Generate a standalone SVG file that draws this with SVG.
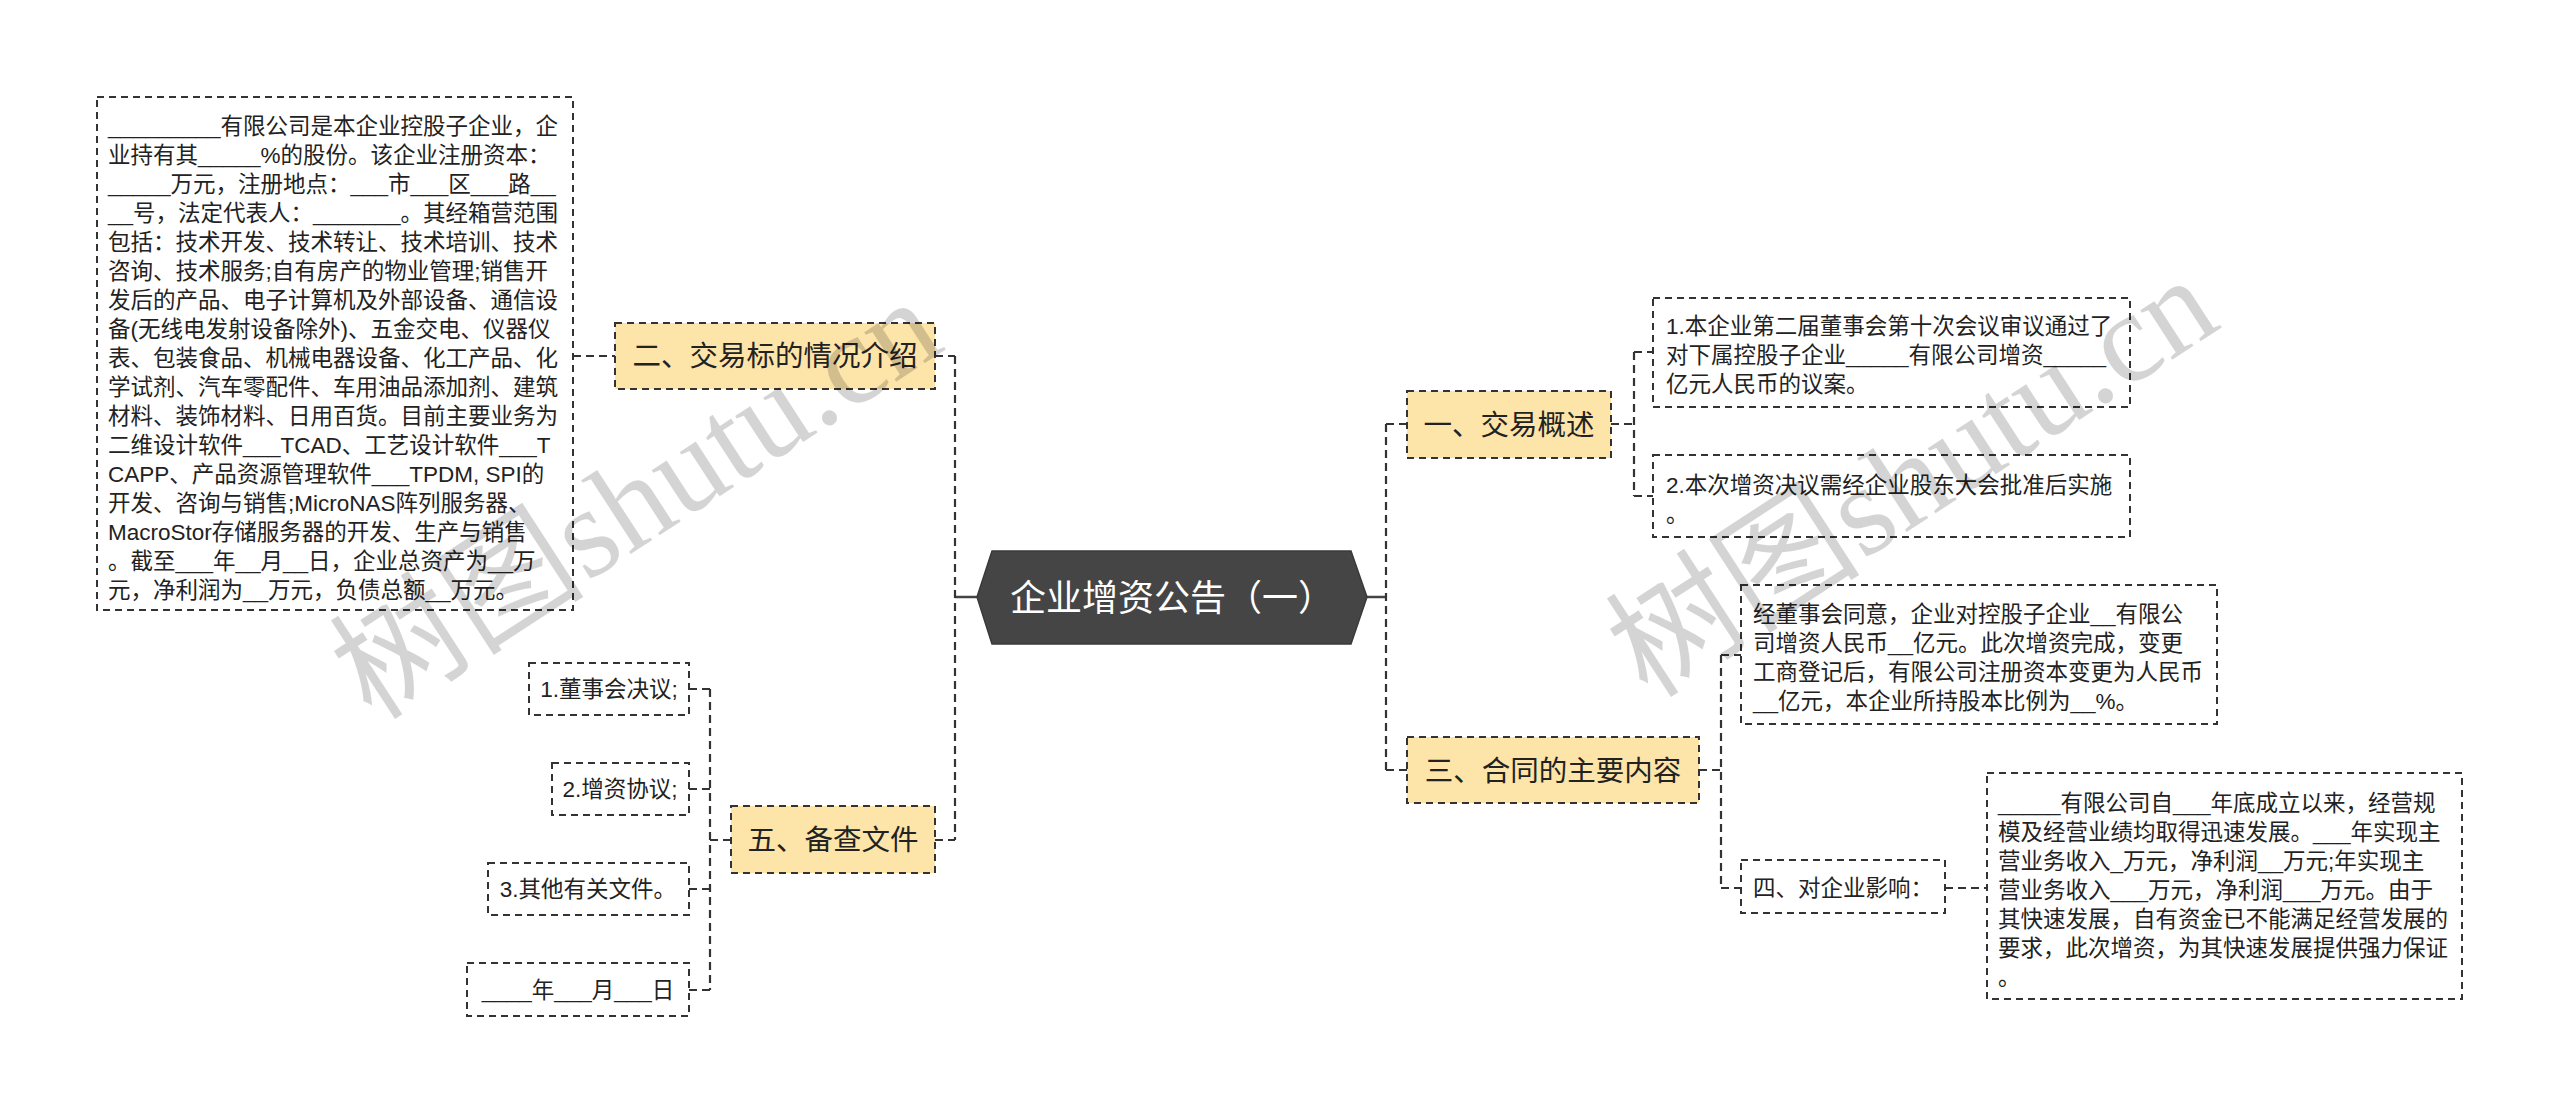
<svg xmlns="http://www.w3.org/2000/svg" width="2560" height="1113" viewBox="0 0 2560 1113">
<style>
text{font-family:"Liberation Sans","Noto Sans CJK SC",sans-serif;fill:#222}
.box{fill:#fff;stroke:#333;stroke-width:2;stroke-dasharray:7 5}
.l1{fill:#fde4a9;stroke:#333;stroke-width:2;stroke-dasharray:7 5}
.t2{font-size:22.5px}
.t1{font-size:28.5px;text-anchor:middle}
.c{text-anchor:middle}
.conn{fill:none;stroke:#333;stroke-width:2.2;stroke-dasharray:8 5}
.solid{fill:none;stroke:#444;stroke-width:2.5}
.wm{font-family:"Liberation Serif","Noto Sans CJK SC",serif;font-size:128px;fill:#000;fill-opacity:0.17}
</style>
<rect width="2560" height="1113" fill="#fff"/>
<g id="connectors">
<path class="solid" d="M977 597H955M1367 597H1386"/>
<path class="conn" d="M955 356V840M935 356H955M935 840H955M573 356H615"/>
<path class="conn" d="M731 840H710M710 689V990M689 689H710M689 789H710M689 889H710M689 990H710"/>
<path class="conn" d="M1386 424V770M1386 424H1407M1386 770H1407"/>
<path class="conn" d="M1611 424H1634M1634 352V496M1634 352H1653M1634 496H1653"/>
<path class="conn" d="M1699 770H1721M1721 655V888M1721 655H1741M1721 888H1741M1945 888H1987"/>
</g>
<g id="root">
<path d="M977 597L992 551H1351L1367 597L1351 644H992Z" fill="#454545" stroke="#3a3a3a" stroke-width="1.5"/>
<text x="1172" y="611" class="c" style="font-size:36px;fill:#fff">企业增资公告（一）</text>
</g>
<g id="n2">
<rect class="l1" x="615" y="323" width="320" height="66"/>
<text class="t1" x="775" y="366">二、交易标的情况介绍</text>
</g>
<g id="n2a">
<rect class="box" x="97" y="97" width="476" height="513"/>
<text class="t2">
<tspan x="108" y="134">_________有限公司是本企业控股子企业，企</tspan>
<tspan x="108" y="163">业持有其_____%的股份。该企业注册资本：</tspan>
<tspan x="108" y="192">_____万元，注册地点：___市___区___路__</tspan>
<tspan x="108" y="221">__号，法定代表人：_______。其经箱营范围</tspan>
<tspan x="108" y="250">包括：技术开发、技术转让、技术培训、技术</tspan>
<tspan x="108" y="279">咨询、技术服务;自有房产的物业管理;销售开</tspan>
<tspan x="108" y="308">发后的产品、电子计算机及外部设备、通信设</tspan>
<tspan x="108" y="337">备(无线电发射设备除外)、五金交电、仪器仪</tspan>
<tspan x="108" y="366">表、包装食品、机械电器设备、化工产品、化</tspan>
<tspan x="108" y="395">学试剂、汽车零配件、车用油品添加剂、建筑</tspan>
<tspan x="108" y="424">材料、装饰材料、日用百货。目前主要业务为</tspan>
<tspan x="108" y="453">二维设计软件___TCAD、工艺设计软件___T</tspan>
<tspan x="108" y="482">CAPP、产品资源管理软件___TPDM, SPI的</tspan>
<tspan x="108" y="511">开发、咨询与销售;MicroNAS阵列服务器、</tspan>
<tspan x="108" y="540">MacroStor存储服务器的开发、生产与销售</tspan>
<tspan x="108" y="569">。截至___年__月__日，企业总资产为__万</tspan>
<tspan x="108" y="598">元，净利润为__万元，负债总额__万元。</tspan>
</text>
</g>
<g id="n5">
<rect class="l1" x="731" y="806" width="204" height="67"/>
<text class="t1" x="833" y="850">五、备查文件</text>
</g>
<g id="n5a">
<rect class="box" x="529" y="663" width="160" height="52"/>
<text class="t2 c" x="609" y="697">1.董事会决议;</text>
</g>
<g id="n5b">
<rect class="box" x="552" y="763" width="137" height="52"/>
<text class="t2 c" x="620" y="797">2.增资协议;</text>
</g>
<g id="n5c">
<rect class="box" x="488" y="863" width="201" height="52"/>
<text class="t2 c" x="588" y="897">3.其他有关文件。</text>
</g>
<g id="n5d">
<rect class="box" x="467" y="963" width="222" height="53"/>
<text class="t2 c" x="578" y="998">____年___月___日</text>
</g>
<g id="n1">
<rect class="l1" x="1407" y="391" width="204" height="67"/>
<text class="t1" x="1509" y="435">一、交易概述</text>
</g>
<g id="n1a">
<rect class="box" x="1653" y="298" width="477" height="109"/>
<text class="t2">
<tspan x="1666" y="334">1.本企业第二届董事会第十次会议审议通过了</tspan>
<tspan x="1666" y="363">对下属控股子企业_____有限公司增资_____</tspan>
<tspan x="1666" y="392">亿元人民币的议案。</tspan>
</text>
</g>
<g id="n1b">
<rect class="box" x="1653" y="455" width="477" height="82"/>
<text class="t2">
<tspan x="1666" y="493">2.本次增资决议需经企业股东大会批准后实施</tspan>
<tspan x="1666" y="522">。</tspan>
</text>
</g>
<g id="n3">
<rect class="l1" x="1407" y="737" width="292" height="66"/>
<text class="t1" x="1553" y="781">三、合同的主要内容</text>
</g>
<g id="n3a">
<rect class="box" x="1741" y="585" width="476" height="139"/>
<text class="t2">
<tspan x="1753" y="622">经董事会同意，企业对控股子企业__有限公</tspan>
<tspan x="1753" y="651">司增资人民币__亿元。此次增资完成，变更</tspan>
<tspan x="1753" y="680">工商登记后，有限公司注册资本变更为人民币</tspan>
<tspan x="1753" y="709">__亿元，本企业所持股本比例为__%。</tspan>
</text>
</g>
<g id="n4">
<rect class="box" x="1741" y="860" width="204" height="53"/>
<text class="t2 c" x="1843" y="896">四、对企业影响：</text>
</g>
<g id="n4a">
<rect class="box" x="1987" y="773" width="475" height="226"/>
<text class="t2">
<tspan x="1998" y="811">_____有限公司自___年底成立以来，经营规</tspan>
<tspan x="1998" y="840">模及经营业绩均取得迅速发展。___年实现主</tspan>
<tspan x="1998" y="869">营业务收入_万元，净利润__万元;年实现主</tspan>
<tspan x="1998" y="898">营业务收入___万元，净利润___万元。由于</tspan>
<tspan x="1998" y="927">其快速发展，自有资金已不能满足经营发展的</tspan>
<tspan x="1998" y="956">要求，此次增资，为其快速发展提供强力保证</tspan>
<tspan x="1998" y="985">。</tspan>
</text>
</g>
<g id="watermark">
<text class="wm" transform="translate(372,722) rotate(-33)">树图shutu.cn</text>
<text class="wm" transform="translate(1648,700) rotate(-33)">树图shutu.cn</text>
</g>
</svg>
